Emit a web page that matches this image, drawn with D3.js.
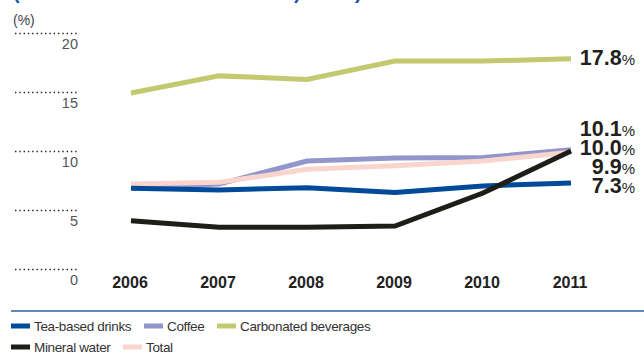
<!DOCTYPE html>
<html>
<head>
<meta charset="utf-8">
<script src="https://cdn.jsdelivr.net/npm/d3@7"></script>
<style>
	body { margin: 0; background: #fff; }
	svg { display: block; font-family: "Liberation Sans", Arial, sans-serif; }
</style>
</head>
<body>
<div class="chart"></div>
<script>
const width = 644,
	height = 355;

const years = ["2006", "2007", "2008", "2009", "2010", "2011"];
const yTicks = [0, 5, 10, 15, 20];

const teaValues = [6.85, 6.7, 6.9, 6.5, 7.05, 7.3];
const coffeeValues = [6.9, 7.2, 9.15, 9.4, 9.45, 10.1];
const carbonatedValues = [14.9, 16.35, 16.05, 17.6, 17.6, 17.8];
const mineralValues = [4.1, 3.55, 3.55, 3.65, 6.45, 10.0];
const totalValues = [7.2, 7.35, 8.45, 8.75, 9.15, 9.9];

const seriesNames = ["Carbonated beverages", "Coffee", "Total", "Tea-based drinks", "Mineral water"];
const seriesValues = [carbonatedValues, coffeeValues, totalValues, teaValues, mineralValues];
const seriesColors = ["#c2c96f", "#9296cb", "#f9d5cd", "#004a99", "#1f1d18"];

// legend order as in the picture
const legendRows = [
	["Tea-based drinks", "Coffee", "Carbonated beverages"],
	["Mineral water", "Total"]
];

const colorOf = (name) => seriesColors[seriesNames.indexOf(name)];

const x = d3.scalePoint().domain(years).range([131, 571]);
const y = d3.scaleLinear().domain([0, 20]).range([269.3, 32.7]);

const svg = d3
	.select(".chart")
	.append("svg")
	.attr("width", width)
	.attr("height", height);

// cut-off title at the very top
svg.append("g")
	.attr("fill", "#1a56a6")
	.attr("font-weight", "bold")
	.attr("font-size", 20)
	.selectAll("text")
	.data([[13, "("], [294, ")"], [355, ")"]])
	.join("text")
	.attr("x", (d) => d[0])
	.attr("y", -1)
	.text((d) => d[1]);

svg.append("text")
	.attr("x", 13)
	.attr("y", 25)
	.attr("font-size", 14)
	.attr("fill", "#444")
	.text("(%)");

// dotted gridline stubs + tick labels
const yAxis = svg.append("g");
yAxis.selectAll("line")
	.data(yTicks)
	.join("line")
	.attr("x1", 15)
	.attr("x2", 78)
	.attr("y1", (d) => Math.round(y(d)) + 0.5)
	.attr("y2", (d) => Math.round(y(d)) + 0.5)
	.attr("stroke", "#222")
	.attr("stroke-width", 1.6)
	.attr("stroke-dasharray", "1.4,2.9");

yAxis.selectAll("text")
	.data(yTicks)
	.join("text")
	.attr("x", 78)
	.attr("y", (d) => y(d) + 16)
	.attr("text-anchor", "end")
	.attr("font-size", 14.5)
	.attr("fill", "#555")
	.text((d) => d);

// year labels
svg.append("g")
	.selectAll("text")
	.data(years)
	.join("text")
	.attr("x", (d) => x(d) - 1)
	.attr("y", 288)
	.attr("text-anchor", "middle")
	.attr("font-size", 16)
	.attr("font-weight", "bold")
	.attr("fill", "#222")
	.text((d) => d);

// lines
const line = d3
	.line()
	.x((d, i) => x(years[i]))
	.y((d) => y(d));

svg.append("g")
	.attr("fill", "none")
	.attr("stroke-width", 5)
	.selectAll("path")
	.data(seriesValues)
	.join("path")
	.attr("stroke", (d, i) => seriesColors[i])
	.attr("d", line);

// end labels: group colliding ones and spread them around their mean
const gap = 19;
let clusters = seriesValues
	.map((vals) => vals[vals.length - 1])
	.sort((a, b) => b - a)
	.map((v) => ({ items: [v], center: y(v) }));

const layout = (c) => {
	const top = c.center - ((c.items.length - 1) * gap) / 2;
	return c.items.map((v, i) => ({ value: v, pos: top + i * gap }));
};

let merged = true;
while (merged) {
	merged = false;
	for (let i = 0; i < clusters.length - 1; i++) {
		const a = layout(clusters[i]),
			b = layout(clusters[i + 1]);
		if (b[0].pos - a[a.length - 1].pos < gap) {
			const items = clusters[i].items.concat(clusters[i + 1].items);
			clusters.splice(i, 2, { items, center: d3.mean(items, (v) => y(v)) });
			merged = true;
			break;
		}
	}
}
const endLabels = clusters.flatMap(layout);

const endText = svg.append("g")
	.selectAll("text")
	.data(endLabels)
	.join("text")
	.attr("x", 635)
	.attr("y", (d) => d.pos + 6)
	.attr("text-anchor", "end")
	.attr("fill", "#231f1c");
endText.append("tspan")
	.attr("font-size", 21.5)
	.attr("font-weight", "bold")
	.text((d) => d.value.toFixed(1));
endText.append("tspan")
	.attr("font-size", 15)
	.text("%");

// legend
svg.append("line")
	.attr("x1", 11)
	.attr("x2", width)
	.attr("y1", 311)
	.attr("y2", 311)
	.attr("stroke", "#2a5ea8")
	.attr("stroke-width", 1.5);

const legendX = [[11, 144, 217], [11, 123]];
legendRows.forEach((row, r) => {
	const g = svg.append("g").attr("transform", `translate(0,${326 + r * 21})`);
	const item = g.selectAll("g")
		.data(row)
		.join("g")
		.attr("transform", (d, i) => `translate(${legendX[r][i]},0)`);
	item.append("rect")
		.attr("x", 0)
		.attr("y", -2.5)
		.attr("width", 19)
		.attr("height", 5)
		.attr("fill", (d) => colorOf(d));
	item.append("text")
		.attr("x", 23)
		.attr("y", 5)
		.attr("font-size", 13.5)
		.attr("letter-spacing", -0.35)
		.attr("fill", "#333")
		.text((d) => d);
});
</script>
</body>
</html>
